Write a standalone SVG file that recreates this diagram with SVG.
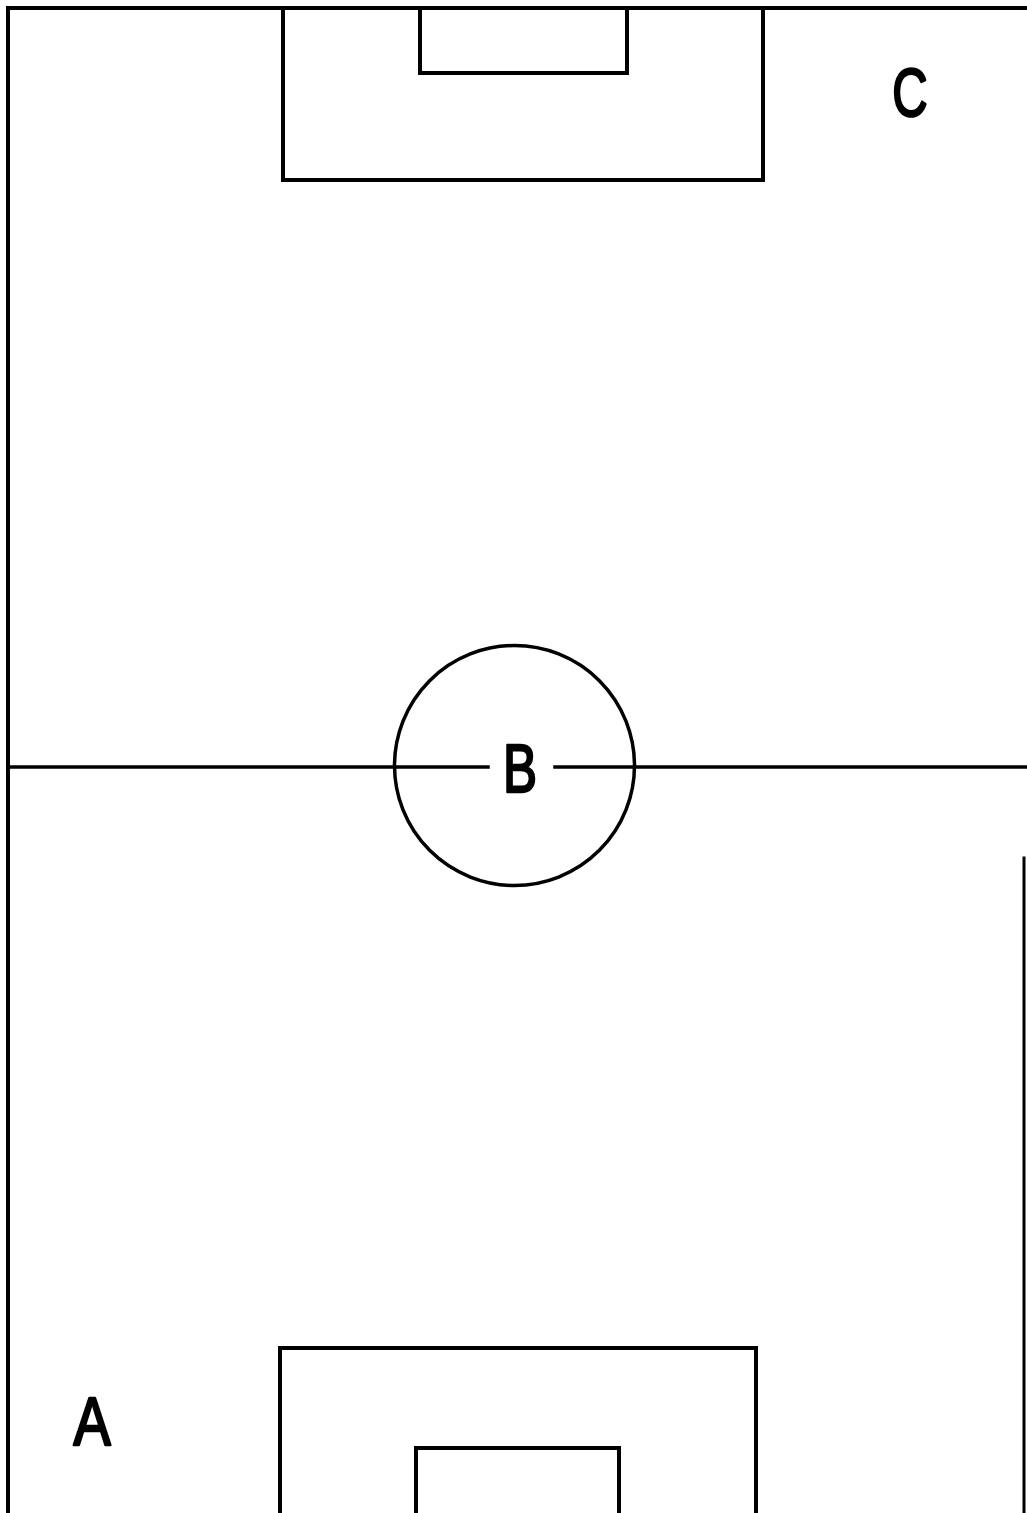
<svg xmlns="http://www.w3.org/2000/svg" width="1027" height="1513" viewBox="0 0 1027 1513">
<style>
.ln{fill:none;stroke:#000;stroke-width:4;stroke-linecap:square;stroke-linejoin:miter}
.lbl{font-family:"Liberation Sans",Arial,sans-serif;font-size:68px;fill:#000;stroke:#000;stroke-width:2.5;stroke-linejoin:round;text-anchor:middle}
</style>
<rect width="1027" height="1513" fill="#fff"/>
<g id="field">
<path class="ln" d="M8,1513 V8 H1027"/>
<path class="ln" d="M1024,858 V1513" style="stroke-width:3"/>
<path class="ln" d="M8,767 H488 M555,767 H1027" style="stroke-width:3.5"/>
<circle class="ln" cx="514.5" cy="765.5" r="120" style="stroke-width:3.5"/>
</g>
<g id="top-penalty-box"><path class="ln" d="M283,8 V180 H763 V8"/></g>
<g id="top-goal-box"><path class="ln" d="M420,8 V73 H627 V8"/></g>
<g id="bottom-penalty-box"><path class="ln" d="M280,1513 V1348 H756 V1513"/></g>
<g id="bottom-goal-box"><path class="ln" d="M416,1513 V1448 H619 V1513"/></g>
<g id="labels">
<text class="lbl" transform="translate(910,116) scale(0.72,1)">C</text>
<text class="lbl" transform="translate(520,792) scale(0.75,1)">B</text>
<text class="lbl" transform="translate(92,1445) scale(0.82,1)">A</text>
</g>
</svg>
